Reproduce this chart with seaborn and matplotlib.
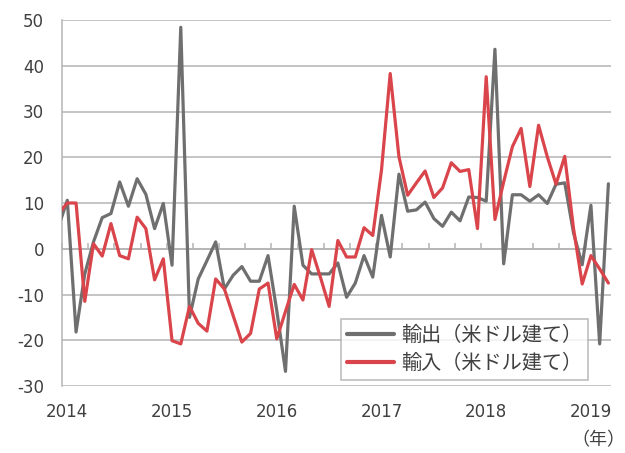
import numpy as np
import pandas as pd
import matplotlib
matplotlib.use("Agg")
import matplotlib.pyplot as plt
import seaborn as sns

# ---- data (monthly, Dec 2013 .. Mar 2019), % y/y ----
months = pd.period_range("2013-12", "2019-03", freq="M")
exports = [4.9, 10.6, -18.2, -5.5, 1.5, 6.8, 7.7, 14.6, 9.3, 15.3, 11.9, 4.4, 9.9,
           -3.6, 48.4, -15.0, -6.6, -2.6, 1.5, -8.8, -5.8, -3.9, -7.1, -7.1, -1.5,
           -13.5, -26.8, 9.3, -3.6, -5.5, -5.5, -5.5, -3.1, -10.6, -7.5, -1.5,
           -6.2, 7.3, -1.8, 16.3, 8.2, 8.5, 10.2, 6.6, 4.9, 8.0, 6.1, 11.3, 11.2,
           10.4, 43.6, -3.3, 11.8, 11.8, 10.4, 11.8, 9.9, 14.1, 14.4, 3.5, -3.5,
           9.5, -20.8, 14.2]
imports = [7.7, 10.0, 10.0, -11.5, 1.1, -1.6, 5.5, -1.5, -2.2, 6.9, 4.4, -6.8, -2.2,
           -20.1, -20.8, -12.6, -16.3, -18.0, -6.6, -8.8, -14.6, -20.4, -18.5,
           -8.8, -7.5, -19.7, -13.7, -7.8, -11.2, -0.2, -6.2, -12.6, 1.8, -1.8,
           -1.8, 4.6, 2.9, 17.2, 38.3, 20.1, 11.7, 14.4, 17.0, 11.2, 13.3, 18.8,
           16.9, 17.3, 4.4, 37.6, 6.4, 14.6, 22.3, 26.3, 13.6, 27.0, 20.1, 14.1,
           20.2, 4.5, -7.7, -1.5, -4.4, -7.5]
series_names = ["輸出（米ドル建て）", "輸入（米ドル建て）"]
year_labels = ["2014", "2015", "2016", "2017", "2018", "2019"]
y_ticks = [50, 40, 30, 20, 10, 0, -10, -20, -30]
colors = ["#6f6f6f", "#d9454b"]

# month index: Jan 2014 = 0
t = np.array([(p - pd.Period("2014-01", freq="M")).n for p in months])
df = pd.DataFrame({
    "t": np.concatenate([t, t]),
    "value": exports + imports,
    "series": [series_names[0]] * len(t) + [series_names[1]] * len(t),
})

sns.set_theme(style="white")
plt.rcParams["font.family"] = ["Noto Sans CJK JP", "DejaVu Sans"]
num_font = ["DejaVu Sans"]
txt_c = "#404040"

fig = plt.figure(figsize=(6.25, 4.53), dpi=100)
ax = fig.add_axes([62 / 625, 1 - 386 / 453, 549 / 625, 366 / 453])

sns.lineplot(data=df, x="t", y="value", hue="series", hue_order=series_names,
             palette=colors, linewidth=2.3, ax=ax, legend=True, zorder=3)

x0, x1 = -0.61, 62.3
ax.set_xlim(x0, x1)
ax.set_ylim(-30, 50)

grid_c = "#b4b4b4"
ax.set_yticks(y_ticks)
ax.set_yticklabels([str(v) for v in y_ticks], fontsize=12, color=txt_c,
                   family=num_font)
ax.yaxis.grid(True, color=grid_c, linewidth=1.1)
ax.xaxis.grid(False)
ax.tick_params(axis="y", length=0, pad=13)

for s in ["top", "right"]:
    ax.spines[s].set_visible(False)
ax.spines["left"].set_color(grid_c)
ax.spines["left"].set_linewidth(1.1)
ax.spines["bottom"].set_position(("data", 0))
ax.spines["bottom"].set_color(grid_c)
ax.spines["bottom"].set_linewidth(1.1)
ax.spines["bottom"].set_zorder(1)

# small quarterly tick marks on the zero line
ax.set_xticks(np.arange(x0, x1 + 0.01, 3))
ax.set_xticklabels([])
ax.tick_params(axis="x", direction="in", length=4, width=1.1, color=grid_c,
               bottom=True)
ax.set_xlabel("")
ax.set_ylabel("")

# year labels along the bottom edge
sec = ax.secondary_xaxis(0)
sec.set_xticks([0, 12, 24, 36, 48, 60])
sec.set_xticklabels(year_labels, fontsize=12, color=txt_c, family=num_font)
sec.tick_params(length=0, pad=12)
sec.spines["bottom"].set_visible(False)

leg = ax.legend(loc="lower right", bbox_to_anchor=((588 - 62) / 549, (386 - 380) / 366),
                borderaxespad=0, fontsize=14.5, frameon=True, fancybox=False,
                edgecolor="#a8a8a8", handlelength=2.3, handletextpad=0.35,
                borderpad=0.3, labelspacing=0.35, title=None)
leg.get_frame().set_linewidth(1.1)
for txt in leg.get_texts():
    txt.set_color(txt_c)
for h in leg.get_lines():
    h.set_linewidth(3)

fig.text(598 / 625, 1 - 440 / 453, "（年）", fontsize=13, color=txt_c,
         ha="center", va="center")

fig.savefig("out.png", dpi=100)
